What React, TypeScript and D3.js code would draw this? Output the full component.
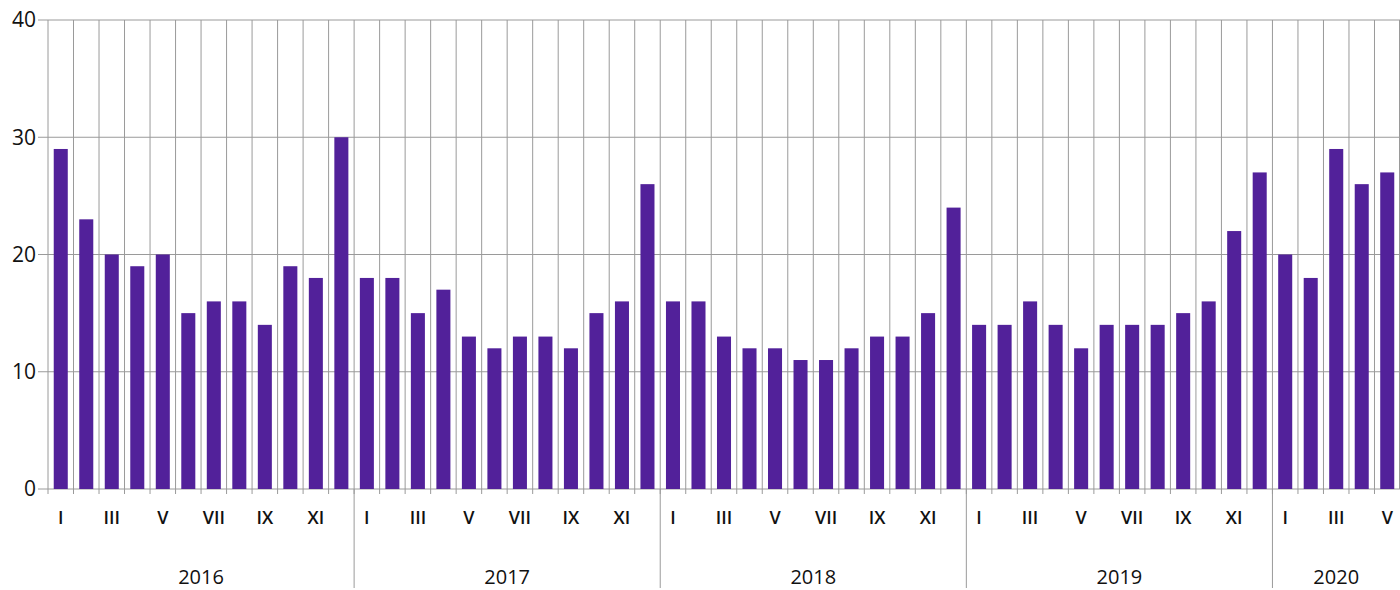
import React from "react";
import { scaleBand, scaleLinear } from "d3";

const years = ["2016", "2017", "2018", "2019", "2020"];
const monthsPerYear = [12, 12, 12, 12, 5];
const romans = ["I", "II", "III", "IV", "V", "VI", "VII", "VIII", "IX", "X", "XI", "XII"];

const values2016 = [29, 23, 20, 19, 20, 15, 16, 16, 14, 19, 18, 30];
const values2017 = [18, 18, 15, 17, 13, 12, 13, 13, 12, 15, 16, 26];
const values2018 = [16, 16, 13, 12, 12, 11, 11, 12, 13, 13, 15, 24];
const values2019 = [14, 14, 16, 14, 12, 14, 14, 14, 15, 16, 22, 27];
const values2020 = [20, 18, 29, 26, 27];

const yTicks = [0, 10, 20, 30, 40];

const W = 1400;
const H = 590;
const left = 48;
const right = 1400;
const top = 20;
const bottom = 489;

export default function App() {
  const all = [values2016, values2017, values2018, values2019, values2020];
  const data: { key: string; year: string; month: number; value: number }[] = [];
  all.forEach((arr, yi) =>
    arr.forEach((v, mi) =>
      data.push({ key: years[yi] + "-" + mi, year: years[yi], month: mi, value: v })
    )
  );

  const x = scaleBand<string>()
    .domain(data.map((d) => d.key))
    .range([left, right])
    .paddingInner(0)
    .paddingOuter(0);
  const bw = x.bandwidth();
  const barW = bw * 0.55;
  const y = scaleLinear().domain([0, 40]).range([bottom, top]);

  const font = "'Open Sans', 'Noto Sans', sans-serif";
  const grid = "#9a9a9a";

  // year start indices
  const starts: number[] = [];
  let acc = 0;
  monthsPerYear.forEach((n) => {
    starts.push(acc);
    acc += n;
  });

  return (
    <svg width={W} height={H} style={{ position: "absolute", left: 0, top: 0 }}>
      <rect x={0} y={0} width={W} height={H} fill="#fff" />
      {/* horizontal grid */}
      {yTicks.map((t) => (
        <g key={t}>
          <line x1={left - 10} x2={right} y1={y(t)} y2={y(t)} stroke={grid} strokeWidth={1} />
          <text
            x={left - 12}
            y={y(t)}
            textAnchor="end"
            dy="0.35em"
            fontFamily={font}
            fontSize={21}
            fill="#111"
          >
            {t}
          </text>
        </g>
      ))}
      {/* vertical grid at band boundaries */}
      {data.map((d) => (
        <line
          key={"v" + d.key}
          x1={x(d.key)!}
          x2={x(d.key)!}
          y1={top}
          y2={bottom + 5}
          stroke={grid}
          strokeWidth={1}
        />
      ))}
      <line x1={right - 0.5} x2={right - 0.5} y1={top} y2={bottom} stroke={grid} />
      {/* bars */}
      {data.map((d) => (
        <rect
          key={"b" + d.key}
          x={x(d.key)! + (bw - barW) / 2}
          width={barW}
          y={y(d.value)}
          height={y(0) - y(d.value)}
          fill="#52219a"
        />
      ))}
      {/* month labels */}
      {data
        .filter((d) => d.month % 2 === 0)
        .map((d) => (
          <text
            key={"m" + d.key}
            x={x(d.key)! + bw / 2}
            y={524}
            textAnchor="middle"
            fontFamily={font}
            fontSize={18}
            fontWeight={600}
            fill="#111"
          >
            {romans[d.month]}
          </text>
        ))}
      {/* year dividers and labels */}
      {years.map((yr, i) => {
        const x0 = x(data[starts[i]].key)!;
        const x1 = i < years.length - 1 ? x(data[starts[i + 1]].key)! : right;
        return (
          <g key={yr}>
            {i > 0 && (
              <line x1={x0} x2={x0} y1={bottom} y2={588} stroke={grid} strokeWidth={1} />
            )}
            <text
              x={(x0 + x1) / 2}
              y={584}
              textAnchor="middle"
              fontFamily={font}
              fontSize={20}
              fill="#111"
            >
              {yr}
            </text>
          </g>
        );
      })}
    </svg>
  );
}
